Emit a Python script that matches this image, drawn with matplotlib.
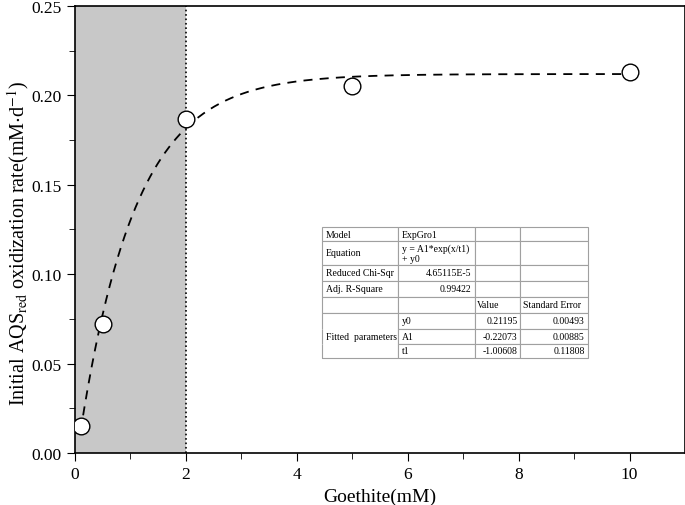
import numpy as np
import matplotlib.pyplot as plt
from matplotlib.ticker import MultipleLocator

# measured data
goethite = [0.1, 0.5, 2.0, 5.0, 10.0]
rate = [0.015, 0.072, 0.187, 0.205, 0.213]

# ExpGro1 fit parameters reported in the table
y0, A1, t1 = 0.21195, -0.22073, -1.00608
fit_start, fit_end = 0.1, 10.0

plt.rcParams['font.family'] = ['Liberation Serif', 'DejaVu Serif']
plt.rcParams['mathtext.fontset'] = 'stix'

fig = plt.figure(figsize=(6.85, 5.06), dpi=100)
ax = fig.add_axes([75 / 685, 52 / 506, 610 / 685, 447 / 506])

# shaded region and dotted boundary
ax.axvspan(0, 2, color='#c8c8c8', lw=0, zorder=0)
ax.axvline(2, color='black', ls=':', lw=1.2, zorder=1)

# fitted curve
xf = np.linspace(fit_start, fit_end, 300)
yf = y0 + A1 * np.exp(xf / t1)
ax.plot(xf, yf, color='black', ls=(0, (5, 4)), lw=1.3, zorder=2)

ax.plot(goethite, rate, 'o', ms=12, mfc='white', mec='black', mew=1.0, zorder=3)

ax.set_xlim(0, 11)
ax.set_ylim(0, 0.25)
ax.xaxis.set_major_locator(MultipleLocator(2))
ax.xaxis.set_minor_locator(MultipleLocator(1))
ax.yaxis.set_major_locator(MultipleLocator(0.05))
ax.yaxis.set_minor_locator(MultipleLocator(0.025))
ax.yaxis.set_major_formatter(plt.FormatStrFormatter('%.2f'))
ax.tick_params(which='both', direction='out', top=False, right=False, labelsize=12.5)
ax.tick_params(which='major', length=6)
ax.tick_params(which='minor', length=4)
for s in ax.spines.values():
    s.set_linewidth(1.2)

ax.set_xlabel('Goethite(mM)', fontsize=14)
ax.set_ylabel(r'Initial AQS$_{\mathrm{red}}$ oxidization rate(mM$\cdot$d$^{-1}$)', fontsize=14.5)
ax.yaxis.set_label_coords(-0.072, 0.47)

# fit report table
cells = [
    ['Model', 'ExpGro1', '', ''],
    ['Equation', 'y = A1*exp(x/t1)\n+ y0', '', ''],
    ['Reduced Chi-Sqr', '4.65115E-5', '', ''],
    ['Adj. R-Square', '0.99422', '', ''],
    ['', '', 'Value', 'Standard Error'],
    ['', 'y0', '0.21195', '0.00493'],
    ['Fitted  parameters', 'A1', '-0.22073', '0.00885'],
    ['', 't1', '-1.00608', '0.11808'],
]
row_h = [14, 24, 16, 16, 16, 16, 15, 14]
col_w = [76, 77, 45, 68]
right_cells = {(2, 1), (3, 1), (5, 2), (6, 2), (7, 2), (5, 3), (6, 3), (7, 3)}

x0 = (322 - 75) / 610
x1 = (588 - 75) / 610
yb = (454 - 359) / 447
yt = (454 - 228) / 447
tab = ax.table(cellText=cells, bbox=[x0, yb, x1 - x0, yt - yb], zorder=5)
tab.auto_set_font_size(False)
for (r, c), cell in tab.get_celld().items():
    cell.set_height(row_h[r])
    cell.set_width(col_w[c])
    cell.set_edgecolor('#a0a0a0')
    cell.set_linewidth(0.8)
    cell.get_text().set_fontsize(7)
    cell.PAD = 0.05
    if (r, c) in right_cells:
        cell.get_text().set_ha('right')
        cell._loc = 'right'
    else:
        cell.get_text().set_ha('left')
        cell._loc = 'left'
tab[5, 0].visible_edges = 'LRT'
tab[6, 0].visible_edges = 'LR'
tab[7, 0].visible_edges = 'LRB'

fig.savefig('out.png', dpi=100)
